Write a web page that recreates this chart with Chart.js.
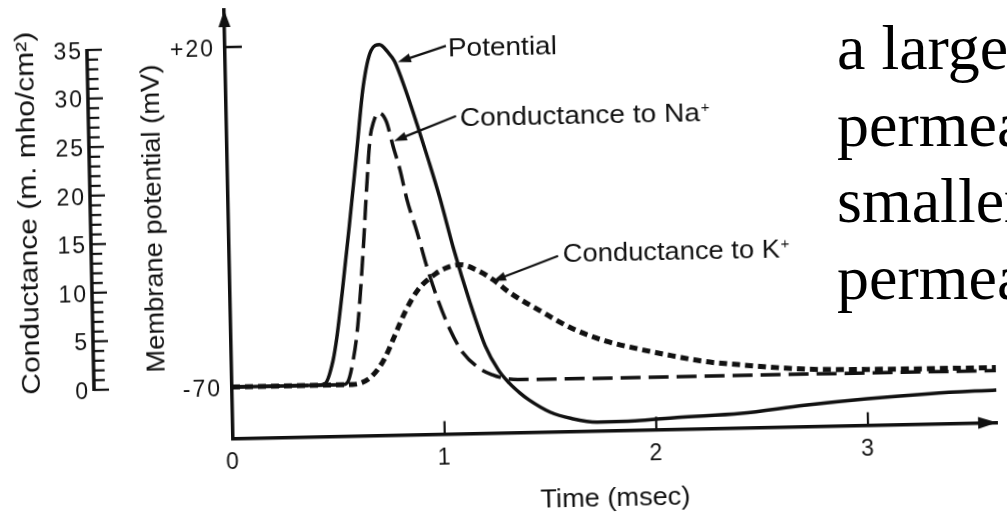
<!DOCTYPE html>
<html>
<head>
<meta charset="utf-8">
<script src="https://cdn.jsdelivr.net/npm/chart.js@4.4.1/dist/chart.umd.min.js"></script>
<style>
  html, body { margin: 0; padding: 0; background: #fff; overflow: hidden; }
  body { width: 1007px; height: 514px; position: relative; }
  #wrap { position: absolute; left: 0; top: 0; width: 1007px; height: 540px;
          transform: rotate(-1.2deg); transform-origin: 234px 387px; }
  #slide { position: absolute; left: 837px; top: 10px; color: #000; white-space: nowrap;
           font-family: "Liberation Serif", "Times New Roman", serif; font-size: 64px; line-height: 76.5px; }
</style>
</head>
<body>
<div id="wrap"><canvas id="myChart" width="1007" height="540"></canvas></div>
<div id="slide">a large<br>permeability<br>smaller<br>permeability</div>
<script>
// Données (temps en msec)
const potTime  = [0, 0.40, 0.44, 0.48, 0.50, 0.53, 0.57, 0.61, 0.65, 0.69, 0.73, 0.77, 0.80, 0.85, 0.90, 0.95, 1.00, 1.06, 1.13, 1.20, 1.26, 1.31, 1.36, 1.40, 1.50, 1.60, 1.72, 1.90, 2.10, 2.40, 2.70, 3.00, 3.30, 3.61];
const potValue = [-70, -70, -69.6, -63.5, -57.5, -45.5, -28, -9.5, 9, 18.3, 19.8, 17.7, 15.3, 7.5, -1.5, -11, -21, -34.6, -48.5, -60.5, -67, -70.5, -73.2, -75, -78.4, -80.2, -81.3, -81.2, -80.5, -79.8, -78, -76.6, -75.6, -75];

const naTime  = [0, 0.52, 0.545, 0.575, 0.60, 0.632, 0.656, 0.676, 0.695, 0.72, 0.755, 0.785, 0.815, 0.845, 0.89, 0.933, 0.977, 1.036, 1.095, 1.17, 1.23, 1.28, 1.35, 2.4, 3.61];
const naValue = [0, 0, 0.2, 2.5, 6.0, 13.5, 20.3, 25.2, 27.0, 27.9, 27.0, 24.4, 22.0, 18.9, 15.5, 11.9, 8.8, 5.4, 3.0, 1.4, 0.7, 0.35, 0.15, 0.1, 0.05];

const kTime  = [0, 0.57, 0.61, 0.653, 0.69, 0.726, 0.775, 0.825, 0.888, 0.971, 1.03, 1.089, 1.169, 1.243, 1.322, 1.462, 1.612, 1.774, 1.913, 2.054, 2.24, 2.40, 2.72, 3.0, 3.61];
const kValue = [0, 0, 0.15, 0.65, 1.5, 2.7, 5.0, 7.35, 9.6, 11.2, 11.85, 12.1, 11.5, 10.5, 9.1, 7.2, 5.3, 3.9, 3.1, 2.4, 1.6, 1.2, 0.6, 0.45, 0.35];

const timeTicks = [0, 1, 2, 3];
const potTicks  = [-70, 20];
const condTicks = [0, 5, 10, 15, 20, 25, 30, 35];

// Bornes des axes
const tMax = 3.61;
const vMin = -83.63;
const vMax = 29.8;
// 0–35 m.mho/cm2 couvre -70 à +20 mV
const toCond = v => (v + 70) * 35 / 90;

const ink = '#111';
const police = '"Liberation Sans", Arial, Helvetica, sans-serif';

function points(xs, ys) {
  return xs.map((t, i) => ({ x: t, y: ys[i] }));
}

// Taille fixe des axes, sans marge automatique
function taille(w, h) {
  return s => {
    if (w) s.width = w;
    if (h) s.height = h;
    s.paddingTop = 0;
    s.paddingBottom = 0;
    s.paddingLeft = 0;
    s.paddingRight = 0;
  };
}

function trait(ctx, x1, y1, x2, y2) {
  ctx.beginPath();
  ctx.moveTo(x1, y1);
  ctx.lineTo(x2, y2);
  ctx.stroke();
}

// Pointe de flèche pleine en (x2, y2)
function pointe(ctx, x1, y1, x2, y2, len, half) {
  const a = Math.atan2(y2 - y1, x2 - x1);
  const bx = x2 - len * Math.cos(a);
  const by = y2 - len * Math.sin(a);
  ctx.beginPath();
  ctx.moveTo(x2, y2);
  ctx.lineTo(bx + half * Math.sin(a), by - half * Math.cos(a));
  ctx.lineTo(bx - half * Math.sin(a), by + half * Math.cos(a));
  ctx.closePath();
  ctx.fill();
}

// Texte étiré à une largeur donnée
function texte(ctx, str, x, y, w, rot, align) {
  ctx.save();
  ctx.translate(x, y);
  ctx.rotate(rot);
  const k = w / ctx.measureText(str).width;
  ctx.scale(k, 1);
  ctx.textAlign = align;
  ctx.fillText(str, 0, 0);
  ctx.restore();
}

// Étiquettes fléchées (positions en msec / mV)
const notes = [
  { text: 'Potential', sup: false, at: [1.053, 16.2], w: 109, tail: [1.044, 19.1], tip: [0.816, 15.1] },
  { text: 'Conductance to Na', sup: true, at: [1.103, -2.2], w: 240, tail: [1.085, 0.5], tip: [0.789, -5.8] },
  { text: 'Conductance to K', sup: true, at: [1.576, -38.7], w: 217, tail: [1.553, -37.1], tip: [1.243, -43.4] }
];

const decor = {
  id: 'decor',
  beforeDraw(chart) {
    chart.ctx.letterSpacing = '2px';
  },
  afterDraw(chart) {
    const ctx = chart.ctx;
    const a = chart.chartArea;
    const sx = chart.scales.x;
    const sy = chart.scales.y;
    const sc = chart.scales.yc;
    ctx.save();
    ctx.letterSpacing = '0px';
    ctx.fillStyle = ink;
    ctx.strokeStyle = ink;
    ctx.lineCap = 'butt';

    // flèches des axes
    pointe(ctx, a.left, a.top + 40, a.left, a.top, 17, 6);
    pointe(ctx, a.right - 40, a.bottom, a.right, a.bottom, 19, 6);

    // graduations intérieures
    ctx.lineWidth = 2.5;
    potTicks.forEach(v => {
      const py = sy.getPixelForValue(v);
      trait(ctx, a.left, py, a.left + 17, py);
    });
    ctx.lineWidth = 2.2;
    timeTicks.slice(1).forEach(t => {
      const px = sx.getPixelForValue(t);
      trait(ctx, px, a.bottom, px, a.bottom - 13);
    });

    // règle de conductance
    const rx = sc.left + 94;
    ctx.lineWidth = 3.5;
    trait(ctx, rx, sc.getPixelForValue(0) + 1, rx, sc.getPixelForValue(35) - 1);
    ctx.lineWidth = 2.2;
    for (let g = 0; g <= 35; g++) {
      const py = sc.getPixelForValue(g);
      trait(ctx, rx, py, rx + (g % 5 ? 11 : 15), py);
    }

    // titres des axes
    ctx.font = '25px ' + police;
    ctx.textBaseline = 'alphabetic';
    texte(ctx, 'Conductance (m. mho/cm²)', 40, 209, 363, -Math.PI / 2, 'center');
    texte(ctx, 'Membrane potential (mV)', 165, 217, 308, -Math.PI / 2, 'center');
    texte(ctx, 'Time (msec)', 613, 514, 150, 0, 'center');

    // étiquettes des courbes
    notes.forEach(n => {
      const tx = sx.getPixelForValue(n.at[0]);
      const ty = sy.getPixelForValue(n.at[1]);
      ctx.font = '25px ' + police;
      texte(ctx, n.text, tx, ty, n.w, 0, 'left');
      if (n.sup) {
        ctx.font = '15px ' + police;
        ctx.textAlign = 'left';
        ctx.fillText('+', tx + n.w + 1, ty - 9);
      }
      const x1 = sx.getPixelForValue(n.tail[0]);
      const y1 = sy.getPixelForValue(n.tail[1]);
      const x2 = sx.getPixelForValue(n.tip[0]);
      const y2 = sy.getPixelForValue(n.tip[1]);
      ctx.lineWidth = 2.2;
      const d = Math.hypot(x2 - x1, y2 - y1);
      trait(ctx, x1, y1, x2 - (x2 - x1) * 8 / d, y2 - (y2 - y1) * 8 / d);
      pointe(ctx, x1, y1, x2, y2, 13, 4.5);
    });
    ctx.restore();
  }
};

const ctx = document.getElementById('myChart');
new Chart(ctx, {
  type: 'line',
  data: {
    datasets: [
      {
        label: 'Potential',
        data: points(potTime, potValue),
        yAxisID: 'y',
        borderColor: ink,
        borderWidth: 3.5,
        pointRadius: 0,
        fill: false,
        cubicInterpolationMode: 'monotone'
      },
      {
        label: 'Conductance to Na+',
        data: points(naTime, naValue),
        yAxisID: 'yc',
        borderColor: ink,
        borderWidth: 3.5,
        borderDash: [20, 8],
        pointRadius: 0,
        fill: false,
        cubicInterpolationMode: 'monotone'
      },
      {
        label: 'Conductance to K+',
        data: points(kTime, kValue),
        yAxisID: 'yc',
        borderColor: ink,
        borderWidth: 5,
        borderDash: [8, 5],
        pointRadius: 0,
        fill: false,
        cubicInterpolationMode: 'monotone'
      }
    ]
  },
  options: {
    responsive: false,
    animation: false,
    devicePixelRatio: 1,
    layout: { autoPadding: false, padding: { left: 0, top: 10, right: 10.8, bottom: 0 } },
    plugins: { legend: { display: false }, tooltip: { enabled: false } },
    scales: {
      x: {
        type: 'linear',
        min: 0,
        max: tMax,
        afterFit: taille(0, 101.5),
        afterBuildTicks: s => { s.ticks = timeTicks.map(v => ({ value: v })); },
        grid: { display: false, drawTicks: false },
        border: { display: true, color: ink, width: 3.5 },
        ticks: { color: ink, font: { family: police, size: 23 }, padding: 10, maxRotation: 0, autoSkip: false }
      },
      y: {
        position: 'left',
        weight: 1,
        min: vMin,
        max: vMax,
        afterFit: taille(92, 0),
        afterBuildTicks: s => { s.ticks = potTicks.map(v => ({ value: v })); },
        grid: { display: false, drawTicks: false },
        border: { display: true, color: ink, width: 3.5 },
        ticks: {
          color: ink, font: { family: police, size: 23 }, padding: 10, labelOffset: 3, autoSkip: false,
          callback: v => (v > 0 ? '+' + v : String(v))
        }
      },
      yc: {
        position: 'left',
        weight: 2,
        min: toCond(vMin),
        max: toCond(vMax),
        afterFit: taille(140, 0),
        afterBuildTicks: s => { s.ticks = condTicks.map(v => ({ value: v })); },
        grid: { display: false, drawTicks: false },
        border: { display: false },
        ticks: { color: ink, font: { family: police, size: 23 }, padding: 50, labelOffset: 2.5, autoSkip: false }
      }
    }
  },
  plugins: [decor]
});
</script>
</body>
</html>
